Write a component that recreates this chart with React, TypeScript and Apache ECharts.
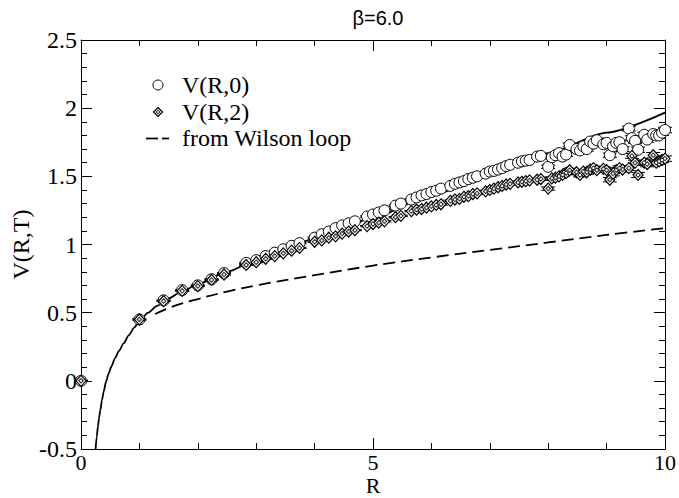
import React, { useEffect, useRef } from "react";
import * as echarts from "echarts";

const SERIF = "Liberation Serif";
const SANS = "Liberation Sans";

const R = [
  0, 1, 1.414, 1.732, 2, 2.236, 2.449, 2.828, 3, 3.162,
  3.317, 3.464, 3.606, 3.742, 4, 4.123, 4.243, 4.359, 4.472, 4.583,
  4.69, 4.899, 5, 5.099, 5.196, 5.385, 5.477, 5.657, 5.745, 5.831,
  5.916, 6, 6.083, 6.164, 6.325, 6.403, 6.481, 6.557, 6.633, 6.708,
  6.782, 6.928, 7, 7.071, 7.141, 7.211, 7.28, 7.348, 7.483, 7.55,
  7.616, 7.681, 7.81, 7.874, 8, 8.062, 8.124, 8.185, 8.246, 8.307,
  8.367, 8.485, 8.544, 8.602, 8.66, 8.718, 8.775, 8.832, 8.944, 9,
  9.055, 9.11, 9.165, 9.22, 9.274, 9.381, 9.434, 9.487, 9.539, 9.644,
  9.695, 9.798, 9.849, 9.899, 9.95, 10,
];

const V0 = [
  0, 0.45, 0.59, 0.665, 0.7, 0.745, 0.79, 0.865, 0.885, 0.915,
  0.94, 0.965, 0.99, 1.01, 1.05, 1.075, 1.095, 1.12, 1.14, 1.155,
  1.17, 1.205, 1.22, 1.235, 1.25, 1.285, 1.3, 1.33, 1.345, 1.36,
  1.37, 1.385, 1.395, 1.41, 1.43, 1.445, 1.455, 1.465, 1.48, 1.49,
  1.5, 1.52, 1.535, 1.54, 1.55, 1.56, 1.575, 1.585, 1.6, 1.61,
  1.615, 1.62, 1.645, 1.65, 1.57, 1.64, 1.655, 1.67, 1.645, 1.66,
  1.73, 1.7, 1.69, 1.72, 1.7, 1.755, 1.74, 1.765, 1.735, 1.745,
  1.655, 1.72, 1.745, 1.75, 1.7, 1.85, 1.78, 1.76, 1.695, 1.805,
  1.77, 1.81, 1.8, 1.8, 1.82, 1.84,
];

const E0 = [
  0.004, 0.004, 0.004, 0.004, 0.004, 0.004, 0.004, 0.004, 0.004, 0.004,
  0.004, 0.004, 0.004, 0.004, 0.004, 0.004, 0.004, 0.004, 0.004, 0.004,
  0.004, 0.005, 0.005, 0.005, 0.005, 0.005, 0.005, 0.005, 0.005, 0.005,
  0.006, 0.006, 0.006, 0.006, 0.006, 0.006, 0.006, 0.006, 0.007, 0.007,
  0.007, 0.008, 0.008, 0.008, 0.008, 0.008, 0.009, 0.009, 0.009, 0.01,
  0.01, 0.01, 0.01, 0.01, 0.012, 0.012, 0.012, 0.012, 0.012, 0.014,
  0.014, 0.014, 0.014, 0.015, 0.015, 0.015, 0.015, 0.016, 0.016, 0.016,
  0.016, 0.017, 0.017, 0.017, 0.018, 0.018, 0.018, 0.018, 0.019, 0.019,
  0.02, 0.02, 0.02, 0.02, 0.02, 0.02,
];

const V2 = [
  0, 0.45, 0.585, 0.66, 0.695, 0.74, 0.78, 0.85, 0.87, 0.895,
  0.915, 0.935, 0.955, 0.975, 1.02, 1.03, 1.05, 1.06, 1.08, 1.095,
  1.105, 1.135, 1.15, 1.16, 1.17, 1.2, 1.21, 1.245, 1.255, 1.26,
  1.27, 1.28, 1.29, 1.295, 1.32, 1.33, 1.335, 1.35, 1.355, 1.37,
  1.375, 1.39, 1.4, 1.41, 1.42, 1.43, 1.44, 1.445, 1.455, 1.46,
  1.465, 1.47, 1.475, 1.48, 1.41, 1.485, 1.49, 1.5, 1.51, 1.525,
  1.545, 1.53, 1.51, 1.535, 1.53, 1.55, 1.56, 1.545, 1.555, 1.545,
  1.475, 1.52, 1.545, 1.56, 1.55, 1.56, 1.65, 1.6, 1.51, 1.6,
  1.59, 1.655, 1.6, 1.61, 1.62, 1.63,
];

const E2 = [
  0.004, 0.004, 0.004, 0.004, 0.004, 0.004, 0.004, 0.004, 0.004, 0.004,
  0.004, 0.004, 0.004, 0.004, 0.004, 0.004, 0.004, 0.004, 0.004, 0.004,
  0.004, 0.005, 0.005, 0.005, 0.005, 0.005, 0.005, 0.005, 0.005, 0.005,
  0.006, 0.006, 0.006, 0.006, 0.006, 0.006, 0.006, 0.006, 0.007, 0.007,
  0.007, 0.008, 0.008, 0.008, 0.008, 0.008, 0.009, 0.009, 0.009, 0.01,
  0.01, 0.01, 0.01, 0.01, 0.012, 0.012, 0.012, 0.012, 0.012, 0.014,
  0.014, 0.014, 0.014, 0.015, 0.015, 0.015, 0.015, 0.016, 0.016, 0.016,
  0.016, 0.017, 0.017, 0.017, 0.018, 0.018, 0.018, 0.018, 0.019, 0.019,
  0.02, 0.02, 0.02, 0.02, 0.02, 0.02,
];

// solid fit curve
const FIT_R = [
  0.25, 0.27, 0.29, 0.31, 0.33, 0.36, 0.39, 0.43, 0.47, 0.52,
  0.58, 0.65, 0.73, 0.82, 0.91, 1, 1.15, 1.3, 1.5, 1.75,
  2, 2.5, 3, 3.5, 4, 4.5, 5, 6, 7, 8, 9, 10,
];
const FIT_V = [
  -0.5, -0.41, -0.335, -0.27, -0.215, -0.14, -0.075, -0.005, 0.05, 0.105,
  0.165, 0.22, 0.275, 0.335, 0.39, 0.44, 0.5, 0.55, 0.605, 0.66,
  0.71, 0.8, 0.885, 0.965, 1.045, 1.125, 1.2, 1.36, 1.515, 1.67, 1.82, 1.967,
];

// dashed "from Wilson loop" curve
const WL_R = [1.27, 1.6, 2, 2.5, 3, 4, 5, 6, 7, 8, 9, 10];
const WL_V = [0.49, 0.55, 0.6, 0.655, 0.7, 0.775, 0.845, 0.905, 0.96, 1.015, 1.07, 1.12];

const X_TICK_LABELS = ["0", "5", "10"];
const Y_TICK_LABELS = ["-0.5", "0", "0.5", "1", "1.5", "2", "2.5"];

const LEGEND_LABELS = ["V(R,0)", "V(R,2)", "from Wilson loop"];

function errorBarSeries(vals: number[], errs: number[]) {
  return {
    type: "custom",
    silent: true,
    z: 2,
    data: R.map((r, i) => [r, vals[i], errs[i]]),
    encode: { x: 0, y: 1 },
    renderItem: (params: any, api: any) => {
      const x = api.value(0);
      const v = api.value(1);
      const e = api.value(2);
      const top = api.coord([x, v + e]);
      const bot = api.coord([x, v - e]);
      const st = { stroke: "#000", lineWidth: 1 };
      return {
        type: "group",
        children: [
          { type: "line", shape: { x1: top[0], y1: top[1], x2: bot[0], y2: bot[1] }, style: st },
          { type: "line", shape: { x1: top[0] - 7, y1: top[1], x2: top[0] + 7, y2: top[1] }, style: st },
          { type: "line", shape: { x1: bot[0] - 7, y1: bot[1], x2: bot[0] + 7, y2: bot[1] }, style: st },
        ],
      };
    },
  };
}

export default function App() {
  const ref = useRef<HTMLDivElement>(null);

  useEffect(() => {
    if (!ref.current) return;
    const chart = echarts.init(ref.current, null, { renderer: "svg" });

    const axisCommon = {
      axisLine: { show: true, onZero: false, lineStyle: { color: "#000", width: 1 } },
      axisTick: { show: true, inside: true, length: 11, lineStyle: { color: "#000", width: 1 } },
      minorTick: { show: true, splitNumber: 5, length: 6, lineStyle: { color: "#000", width: 1 } },
      splitLine: { show: false },
      minorSplitLine: { show: false },
    };
    const labelStyle = { fontFamily: SERIF, fontSize: 24, color: "#000" };
    const xLabelStyle = { fontFamily: SERIF, fontSize: 22, lineHeight: 22, color: "#000" };

    const option: any = {
      animation: false,
      backgroundColor: "#fff",
      title: {
        text: "β=6.0",
        left: 373,
        top: 3,
        textAlign: "center",
        textStyle: { fontFamily: SANS, fontSize: 20, fontWeight: "normal", color: "#000" },
      },
      grid: {
        left: 81,
        right: 14,
        top: 40,
        bottom: 49,
        containLabel: false,
        outerBoundsMode: "none",
      },
      xAxis: [
        {
          type: "value",
          min: 0,
          max: 10,
          interval: 5,
          position: "bottom",
          name: "R",
          nameLocation: "middle",
          nameGap: 25,
          nameMoveOverlap: false,
          nameTextStyle: xLabelStyle,
          ...axisCommon,
          axisLabel: {
            ...xLabelStyle,
            margin: 2,
            formatter: (v: number) => X_TICK_LABELS[Math.round(v / 5)] ?? String(v),
          },
        },
        {
          type: "value",
          min: 0,
          max: 10,
          interval: 5,
          position: "top",
          ...axisCommon,
          axisLabel: { show: false },
        },
      ],
      yAxis: [
        {
          type: "value",
          min: -0.5,
          max: 2.5,
          interval: 0.5,
          position: "left",
          name: "V(R,T)",
          nameLocation: "middle",
          nameGap: 48,
          nameRotate: 90,
          nameMoveOverlap: false,
          nameTextStyle: labelStyle,
          ...axisCommon,
          axisLabel: {
            ...labelStyle,
            margin: 4,
            formatter: (v: number) => Y_TICK_LABELS[Math.round((v + 0.5) / 0.5)] ?? String(v),
          },
        },
        {
          type: "value",
          min: -0.5,
          max: 2.5,
          interval: 0.5,
          position: "right",
          ...axisCommon,
          axisLabel: { show: false },
        },
      ],
      series: [
        {
          type: "line",
          name: "fit",
          data: FIT_R.map((r, i) => [r, FIT_V[i]]),
          showSymbol: false,
          smooth: 0.25,
          smoothMonotone: "x",
          lineStyle: { color: "#000", width: 1.8 },
          z: 1,
        },
        {
          type: "line",
          name: LEGEND_LABELS[2],
          data: WL_R.map((r, i) => [r, WL_V[i]]),
          showSymbol: false,
          smooth: 0.4,
          lineStyle: { color: "#000", width: 1.8, type: [12, 6] },
          z: 1,
        },
        errorBarSeries(V0, E0),
        errorBarSeries(V2, E2),
        {
          type: "scatter",
          name: LEGEND_LABELS[0],
          data: R.map((r, i) => [r, V0[i]]),
          symbol: "circle",
          symbolSize: 11,
          itemStyle: { color: "#fff", borderColor: "#000", borderWidth: 1, opacity: 1 },
          z: 3,
        },
        {
          type: "scatter",
          name: LEGEND_LABELS[1],
          data: R.map((r, i) => [r, V2[i]]),
          symbol: "diamond",
          symbolSize: [10, 11],
          itemStyle: { color: "#fff", borderColor: "#000", borderWidth: 1.2, opacity: 1 },
          z: 4,
        },
        {
          type: "scatter",
          silent: true,
          data: R.map((r, i) => [r, V2[i]]),
          symbol: "diamond",
          symbolSize: [6, 6],
          itemStyle: { color: "#333", opacity: 1 },
          z: 5,
        },
        {
          type: "scatter",
          silent: true,
          data: R.map((r, i) => [r, V2[i]]),
          symbol: "rect",
          symbolSize: [2, 2],
          itemStyle: { color: "#fff", opacity: 1 },
          z: 6,
        },
      ],
      graphic: [
        {
          type: "circle",
          shape: { cx: 158, cy: 85, r: 5 },
          style: { fill: "#fff", stroke: "#000", lineWidth: 1 },
        },
        {
          type: "polygon",
          shape: { points: [[158, 107.5], [162.5, 112], [158, 116.5], [153.5, 112]] },
          style: { fill: "#fff", stroke: "#000", lineWidth: 1.2 },
        },
        {
          type: "polygon",
          shape: { points: [[158, 109.5], [160.5, 112], [158, 114.5], [155.5, 112]] },
          style: { fill: "#333" },
        },
        {
          type: "rect",
          shape: { x: 157.2, y: 111.2, width: 1.6, height: 1.6 },
          style: { fill: "#fff" },
        },
        {
          type: "line",
          shape: { x1: 146, y1: 138.5, x2: 158, y2: 138.5 },
          style: { stroke: "#000", lineWidth: 1.8 },
        },
        {
          type: "line",
          shape: { x1: 162, y1: 138.5, x2: 169, y2: 138.5 },
          style: { stroke: "#000", lineWidth: 1.8 },
        },
        {
          type: "text",
          x: 182,
          y: 85,
          style: { text: LEGEND_LABELS[0], fontFamily: SERIF, fontSize: 24, fill: "#000", verticalAlign: "middle" },
        },
        {
          type: "text",
          x: 182,
          y: 112,
          style: { text: LEGEND_LABELS[1], fontFamily: SERIF, fontSize: 24, fill: "#000", verticalAlign: "middle" },
        },
        {
          type: "text",
          x: 182,
          y: 138,
          style: { text: LEGEND_LABELS[2], fontFamily: SERIF, fontSize: 24, fill: "#000", verticalAlign: "middle" },
        },
      ],
    };

    chart.setOption(option);
    return () => chart.dispose();
  }, []);

  return (
    <div
      ref={ref}
      style={{ position: "absolute", left: 0, top: 0, width: 679, height: 498, background: "#fff" }}
    />
  );
}
